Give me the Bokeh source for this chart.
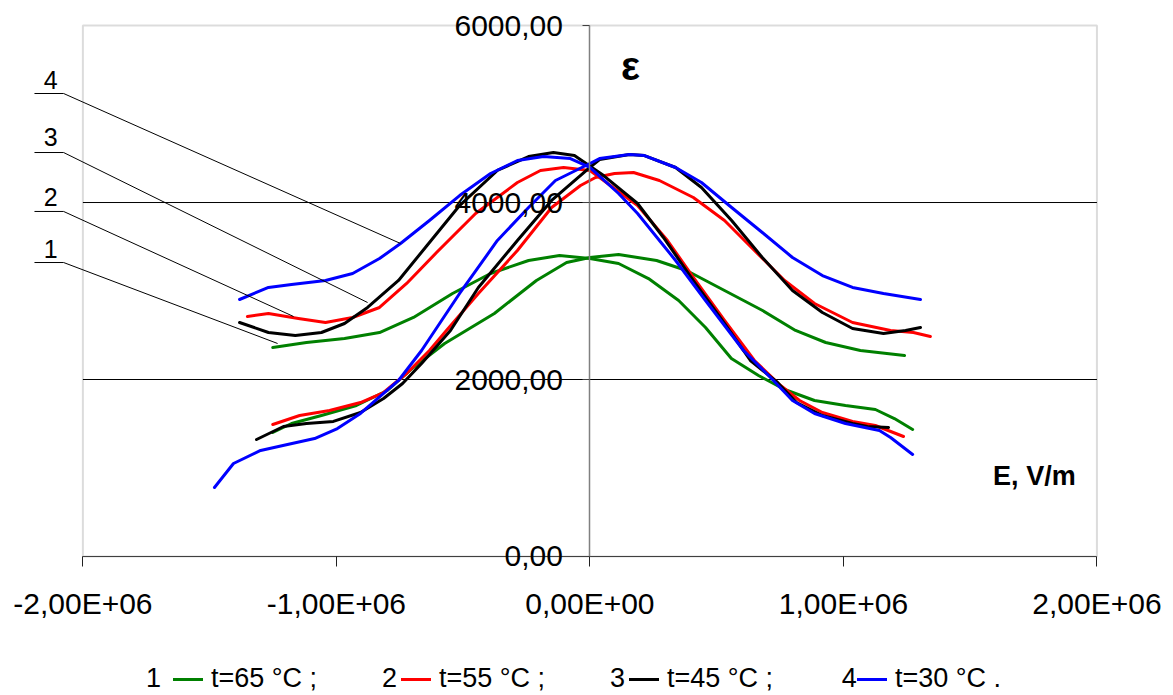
import numpy as np
from bokeh.plotting import figure
from bokeh.models import (Range1d, LinearAxis, FixedTicker, CustomJSTickFormatter,
                          BoxAnnotation, Legend, LegendItem)
from bokeh.core.properties import value
from bokeh.embed import file_html
from bokeh.resources import INLINE

FONT = "Liberation Sans"

# ---------------- data ----------------
x_ticks = [-2e6, -1e6, 0, 1e6, 2e6]
y_ticks = [0, 2000, 4000, 6000]
grid_values = [2000, 4000]

series_labels = ["t=65 °C ;", "t=55 °C ;", "t=45 °C ;", "t=30 °C ."]
series_numbers = ["1", "2", "3", "4"]
series_colors = ["#008000", "#ff0000", "#000000", "#0000ff"]

# t = 65 °C  (E in MV/m, multiplied below)
E65_up = [-1.251, -1.118, -0.968, -0.830, -0.696, -0.542, -0.392, -0.242, -0.120, 0.000, 0.113,
          0.231, 0.350, 0.456, 0.558, 0.665, 0.768, 0.886, 1.008, 1.126, 1.201, 1.273]
eps65_up = [2362, 2418, 2463, 2531, 2701, 2972, 3198, 3345, 3401, 3367, 3311,
            3141, 2893, 2588, 2237, 2045, 1887, 1763, 1706, 1661, 1559, 1435]
E65_lo = [-1.251, -1.177, -1.059, -0.921, -0.799, -0.696, -0.573, -0.377, -0.211, -0.092, 0.000,
          0.113, 0.263, 0.381, 0.531, 0.681, 0.811, 0.930, 1.067, 1.241]
eps65_lo = [1401, 1503, 1593, 1706, 1876, 2136, 2407, 2746, 3119, 3322, 3379,
            3413, 3345, 3232, 3006, 2780, 2554, 2418, 2328, 2271]

# t = 55 °C
E55_up = [-1.351, -1.268, -1.150, -1.043, -0.936, -0.830, -0.723, -0.605, -0.451, -0.286, -0.195,
          -0.104, 0.000, 0.038, 0.188, 0.306, 0.408, 0.531, 0.649, 0.752, 0.827, 0.917, 1.036,
          1.126, 1.237]
eps55_up = [2712, 2746, 2689, 2644, 2701, 2814, 3085, 3435, 3876, 4226, 4362,
            4396, 4362, 4283, 3966, 3571, 3153, 2667, 2215, 1932, 1763, 1627, 1526,
            1480, 1356]
E55_lo = [-1.251, -1.145, -1.027, -0.905, -0.814, -0.723, -0.633, -0.566, -0.440, -0.286, -0.151,
          -0.037, 0.022, 0.097, 0.172, 0.274, 0.408, 0.531, 0.649, 0.768, 0.886, 1.036, 1.186,
          1.276, 1.343]
eps55_lo = [1492, 1593, 1650, 1740, 1853, 2068, 2328, 2554, 2972, 3458, 3944,
            4192, 4283, 4328, 4339, 4249, 4057, 3797, 3458, 3119, 2859, 2644, 2554,
            2531, 2486]

# t = 45 °C
E45_up = [-1.382, -1.268, -1.162, -1.059, -0.968, -0.877, -0.755, -0.649, -0.514, -0.365, -0.242,
          -0.144, -0.061, 0.054, 0.188, 0.290, 0.408, 0.531, 0.633, 0.740, 0.815, 0.917, 1.036,
          1.095, 1.178]
eps45_up = [2644, 2531, 2497, 2531, 2633, 2814, 3119, 3492, 3966, 4362, 4520,
            4565, 4531, 4305, 3989, 3605, 3119, 2633, 2215, 1966, 1740, 1593, 1503,
            1469, 1458]
E45_lo = [-1.315, -1.209, -1.118, -1.012, -0.905, -0.814, -0.739, -0.664, -0.550, -0.440, -0.286,
          -0.151, 0.000, 0.038, 0.156, 0.215, 0.338, 0.440, 0.559, 0.680, 0.799, 0.917, 1.036,
          1.158, 1.245, 1.304]
eps45_lo = [1322, 1469, 1503, 1526, 1627, 1785, 1955, 2181, 2554, 3040, 3571,
            4023, 4396, 4486, 4543, 4531, 4396, 4170, 3797, 3379, 3006, 2757, 2576,
            2520, 2554, 2588]

# t = 30 °C
E30_up = [-1.382, -1.268, -1.177, -1.043, -0.936, -0.830, -0.747, -0.633, -0.514, -0.392, -0.286,
          -0.183, -0.077, 0.000, 0.113, 0.188, 0.338, 0.456, 0.606, 0.724, 0.799, 0.886, 1.008,
          1.142, 1.186, 1.273]
eps30_up = [2904, 3040, 3074, 3119, 3198, 3367, 3537, 3797, 4079, 4328, 4475,
            4520, 4497, 4396, 4102, 3876, 3345, 2893, 2328, 1989, 1763, 1616, 1503,
            1424, 1345, 1153]
E30_lo = [-1.481, -1.406, -1.299, -1.193, -1.086, -0.996, -0.905, -0.814, -0.755, -0.664, -0.514,
          -0.365, -0.242, -0.136, 0.000, 0.038, 0.156, 0.215, 0.338, 0.440, 0.559, 0.680, 0.799,
          0.917, 1.036, 1.158, 1.304]
eps30_lo = [780, 1051, 1198, 1266, 1333, 1446, 1616, 1842, 1989, 2328, 2972,
            3571, 3944, 4249, 4441, 4497, 4543, 4531, 4396, 4226, 3944, 3661, 3379,
            3175, 3040, 2972, 2904]

# leader lines for curve numbers 1..4 (annotation)
leader_x = [[-2.191e6, -2.076e6, -1.232e6],
            [-2.191e6, -2.076e6, -1.169e6],
            [-2.191e6, -2.076e6, -0.877e6],
            [-2.191e6, -2.076e6, -0.747e6]]
leader_y = [[3322, 3322, 2407],
            [3899, 3899, 2712],
            [4565, 4565, 2870],
            [5232, 5232, 3537]]
leader_num_x = [-2.127e6] * 4
leader_num_y = [3480, 4057, 4735, 5390]

legend_num_x = [-1.721e6, -0.791e6, 0.109e6, 1.023e6]
legend_num_y = [-1368] * 4

branches = [
    (E65_up, eps65_up, E65_lo, eps65_lo),
    (E55_up, eps55_up, E55_lo, eps55_lo),
    (E45_up, eps45_up, E45_lo, eps45_lo),
    (E30_up, eps30_up, E30_lo, eps30_lo),
]

# ---------------- figure ----------------
p = figure(width=1173, height=695,
           x_range=Range1d(-2.325e6, 2.302e6), y_range=Range1d(-1571, 6283),
           x_axis_location=None, y_axis_location=None,
           toolbar_location=None, output_backend="svg", min_border=0)
p.grid.visible = False
p.outline_line_color = None
p.background_fill_color = "white"
p.border_fill_color = "white"

# horizontal grid lines at 2000 / 4000, inside the plot area only
p.segment(x0=[x_ticks[0]] * len(grid_values), x1=[x_ticks[-1]] * len(grid_values),
          y0=grid_values, y1=grid_values, line_color="black", line_width=1)

# plot frame
p.add_layout(BoxAnnotation(left=x_ticks[0], right=x_ticks[-1], bottom=y_ticks[0], top=y_ticks[-1],
                           fill_color=None, fill_alpha=0,
                           line_color="#8c8c8c", line_width=2, level="underlay"))

# axes crossing at zero
xfmt = CustomJSTickFormatter(code="""
if (tick == 0) { return "0,00E+00"; }
var e = Math.floor(Math.log10(Math.abs(tick)) + 1e-9);
var m = tick / Math.pow(10, e);
var s = m.toFixed(2).replace('.', ',');
var es = (e < 0 ? '-' : '+') + String(Math.abs(e)).padStart(2, '0');
return s + 'E' + es;
""")
yfmt = CustomJSTickFormatter(code="return tick.toFixed(2).replace('.', ',');")

xaxis = LinearAxis(fixed_location=0, ticker=FixedTicker(ticks=x_ticks), formatter=xfmt,
                   bounds=(x_ticks[0], x_ticks[-1]))
xaxis.axis_line_color = "#404040"
xaxis.axis_line_width = 1
xaxis.major_tick_out = 10
xaxis.major_tick_in = 0
xaxis.major_tick_line_color = "#202020"
xaxis.minor_tick_line_color = None
xaxis.major_label_standoff = 21
xaxis.major_label_text_font = FONT
xaxis.major_label_text_font_size = "30px"
xaxis.major_label_text_color = "black"
p.add_layout(xaxis, "below")

yaxis = LinearAxis(fixed_location=0, ticker=FixedTicker(ticks=y_ticks), formatter=yfmt,
                   bounds=(y_ticks[0], y_ticks[-1]))
yaxis.axis_line_color = "#808080"
yaxis.axis_line_width = 1.5
yaxis.major_tick_out = 7
yaxis.major_tick_in = 0
yaxis.major_tick_line_color = "#404040"
yaxis.minor_tick_line_color = None
yaxis.major_label_standoff = 20
yaxis.major_label_text_font = FONT
yaxis.major_label_text_font_size = "30px"
yaxis.major_label_text_color = "black"
p.add_layout(yaxis, "left")

# curves
items = []
for (eu, yu, el, yl), color, lab in zip(branches, series_colors, series_labels):
    r1 = p.line(np.array(eu) * 1e6, yu, line_color=color, line_width=3,
                line_join="round", line_cap="round")
    p.line(np.array(el) * 1e6, yl, line_color=color, line_width=3,
           line_join="round", line_cap="round")
    items.append(LegendItem(label=lab, renderers=[r1]))

# leader lines and numbers
p.multi_line(xs=leader_x, ys=leader_y, line_color="black", line_width=1)
p.text(x=leader_num_x, y=leader_num_y, text=series_numbers, text_font=value(FONT),
       text_font_size="25px", text_align="center", text_baseline="middle", text_color="black")

# axis titles
p.text(x=[0.160e6], y=[5548], text=["ε"], text_font=value(FONT), text_font_size="40px",
       text_font_style="bold", text_align="center", text_baseline="alphabetic", text_color="black")
p.text(x=[1.916e6], y=[915], text=["E, V/m"], text_font=value(FONT), text_font_size="27px",
       text_font_style="bold", text_align="right", text_baseline="alphabetic", text_color="black")

# legend
legend = Legend(items=items, orientation="horizontal", location=(173, 1),
                glyph_width=30, glyph_height=20, label_standoff=8, label_width=190,
                spacing=0, padding=0, margin=0, border_line_color=None,
                background_fill_alpha=0, label_text_font=FONT, label_text_font_size="27px",
                label_text_color="black")
p.add_layout(legend, "center")
p.text(x=legend_num_x, y=legend_num_y, text=series_numbers, text_font=value(FONT),
       text_font_size="27px", text_align="center", text_baseline="middle", text_color="black")

open("out.html", "w").write(file_html(p, INLINE))
